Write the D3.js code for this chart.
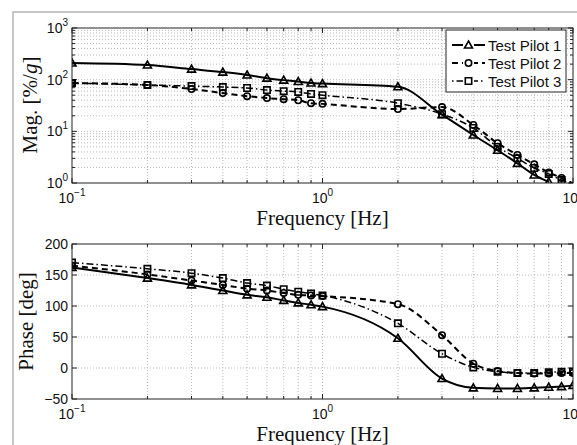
<!DOCTYPE html>
<html><head><meta charset="utf-8">
<script src="https://cdn.jsdelivr.net/npm/d3@7"></script>
<style>body{margin:0;background:#fff}svg{display:block}</style>
</head><body>
<svg id="c" width="577" height="445"></svg>
<script>
// ---------- data ----------
const freqs = [0.1,0.2,0.3,0.4,0.5,0.6,0.7,0.8,0.9,1,2,3,4,5,6,7,8,9,10];
const seriesNames = ["Test Pilot 1","Test Pilot 2","Test Pilot 3"];
const magPilot1 = [210,192,160,140,123,107,98,92,86,84,73,21,8.5,4.3,2.4,1.43,1.05,null,null];
const magPilot2 = [86,79,66,55,48,44,42,40,35,34,27,29.5,13.3,5.9,3.5,2.3,1.6,1.25,0.98];
const magPilot3 = [86,79,75,72,69,63,60,58,53,50,35,21.5,11.6,5.0,3.0,1.95,1.5,1.14,0.98];
const phasePilot1 = [162,145,134,125,118,114,109,105,102,99,48,-17,-32,-33,-33,-32,-31,-30,-28];
const phasePilot2 = [165,151,141,134,128,125,121,118,117,116,103,53,7,-5,-8,-9,-9,-8,-8];
const phasePilot3 = [170,160,153,145,137,133,127,123,120,117,72,23,1,-6,-8,-8,-7,-6,-6];
const xTickExps = [-1,0,1];
const magTickExps = [0,1,2,3];
const phaseTicks = [-50,0,50,100,150,200];
const magLabel = "Mag. ";
const phaseLabel = "Phase [deg]";
const freqLabel = "Frequency [Hz]";

// ---------- setup ----------
const svg = d3.select("#c");
svg.append("rect").attr("width",577).attr("height",445).attr("fill","#fff");
svg.append("path").attr("d","M13,445V12H577").attr("fill","none").attr("stroke","#b4b4b4").attr("stroke-width",1.5);

const L = 72, R = 573;
const x = d3.scaleLog().domain([0.1,10]).range([L,R]);
const yMag = d3.scaleLog().domain([1,1000]).range([183,28]);
const yPh = d3.scaleLinear().domain([-50,200]).range([399,244]);

const minorX = [];
for (let k=-1;k<1;k++) for (let m=1;m<10;m++) minorX.push(m*Math.pow(10,k));
minorX.push(10);
const minorMag = [];
for (let k=0;k<3;k++) for (let m=1;m<10;m++) minorMag.push(m*Math.pow(10,k));
minorMag.push(1000);

const styles = [
  {dash:null, w:2, marker:"tri"},
  {dash:"6,4", w:2, marker:"circ"},
  {dash:"7,3,1.5,3", w:1.5, marker:"sq"}
];
const tickFont = "'Liberation Sans', Arial, sans-serif";
const serif = "'Liberation Serif', 'Times New Roman', serif";

function drawMarker(g, type, cx, cy) {
  const s = g.append("path").attr("fill","none").attr("stroke","#000").attr("stroke-width",1.6);
  if (type==="tri") s.attr("d",`M${cx},${cy-4}L${cx+4},${cy+3}L${cx-4},${cy+3}Z`);
  else if (type==="circ") s.attr("d",d3.arc()({innerRadius:0,outerRadius:3.2,startAngle:0,endAngle:2*Math.PI})).attr("transform",`translate(${cx},${cy})`);
  else s.attr("d",`M${cx-3.2},${cy-3.2}h6.4v6.4h-6.4Z`);
}

function drawPanel(y, yTop, yBot, isLog, seriesVals, clipId) {
  const g = svg.append("g");
  // grid
  const grid = g.append("g").attr("stroke","#a8a8a8").attr("stroke-width",0.8).attr("stroke-dasharray","1,2");
  minorX.forEach(v => { if (v>0.1 && v<10) grid.append("line").attr("x1",x(v)).attr("x2",x(v)).attr("y1",yTop).attr("y2",yBot); });
  const yGridVals = isLog ? minorMag.filter(v=>v>1&&v<1000) : phaseTicks.filter(v=>v>-50&&v<200);
  yGridVals.forEach(v => grid.append("line").attr("x1",L).attr("x2",R).attr("y1",y(v)).attr("y2",y(v)));
  // ticks
  const tk = g.append("g").attr("stroke","#222").attr("stroke-width",1);
  minorX.forEach(v => {
    const major = xTickExps.some(e=>Math.abs(Math.pow(10,e)-v)<1e-9);
    const len = major?5:3;
    tk.append("line").attr("x1",x(v)).attr("x2",x(v)).attr("y1",yBot).attr("y2",yBot-len);
    tk.append("line").attr("x1",x(v)).attr("x2",x(v)).attr("y1",yTop).attr("y2",yTop+len);
  });
  const yTickVals = isLog ? minorMag : phaseTicks;
  yTickVals.forEach(v => {
    const major = isLog ? magTickExps.some(e=>Math.abs(Math.pow(10,e)-v)<1e-9) : true;
    const len = major?5:3;
    tk.append("line").attr("x1",L).attr("x2",L+len).attr("y1",y(v)).attr("y2",y(v));
    tk.append("line").attr("x1",R).attr("x2",R-len).attr("y1",y(v)).attr("y2",y(v));
  });
  // clip
  svg.append("clipPath").attr("id",clipId).append("rect").attr("x",L).attr("y",yTop).attr("width",R-L).attr("height",yBot-yTop);
  const plot = g.append("g").attr("clip-path",`url(#${clipId})`);
  seriesVals.forEach((vals,i) => {
    const st = styles[i];
    const pts = freqs.map((f,j)=>[f,vals[j]]).filter(d=>d[1]!==null);
    const line = d3.line().x(d=>x(d[0])).y(d=>y(d[1])).curve(d3.curveMonotoneX);
    const p = plot.append("path").attr("d",line(pts)).attr("fill","none").attr("stroke","#000").attr("stroke-width",st.w);
    if (st.dash) p.attr("stroke-dasharray",st.dash);
    pts.forEach(d => {
      const dom = y.domain();
      if (d[1] >= dom[0] && d[1] <= dom[1]) drawMarker(plot, st.marker, x(d[0]), y(d[1]));
    });
  });
  // box
  g.append("rect").attr("x",L).attr("y",yTop).attr("width",R-L).attr("height",yBot-yTop).attr("fill","none").attr("stroke","#222").attr("stroke-width",1);
  // x tick labels
  xTickExps.forEach(e => {
    const t = g.append("text").attr("x",x(Math.pow(10,e))).attr("y",yBot+20).attr("text-anchor","middle")
      .attr("font-family",tickFont).attr("font-size",14).attr("fill","#111");
    t.append("tspan").text("10");
    t.append("tspan").attr("dy",-7).attr("font-size",10).text(e<0?"\u2212"+(-e):String(e));
  });
  // y tick labels
  if (isLog) {
    magTickExps.forEach(e => {
      const t = g.append("text").attr("x",68).attr("y",y(Math.pow(10,e))+5).attr("text-anchor","end")
        .attr("font-family",tickFont).attr("font-size",14).attr("fill","#111");
      t.append("tspan").text("10");
      t.append("tspan").attr("dy",-7).attr("font-size",10).text(String(e));
    });
  } else {
    phaseTicks.forEach(v => {
      g.append("text").attr("x",68).attr("y",y(v)+5).attr("text-anchor","end")
        .attr("font-family",tickFont).attr("font-size",14).attr("fill","#111")
        .text(v<0?"\u2212"+(-v):String(v));
    });
  }
  // x label
  g.append("text").attr("x",(L+R)/2).attr("y",yBot+42).attr("text-anchor","middle")
    .attr("font-family",serif).attr("font-size",21).attr("fill","#111").text(freqLabel);
  return g;
}

drawPanel(yMag, 28, 183, true, [magPilot1,magPilot2,magPilot3], "clipMag");
drawPanel(yPh, 244, 399, false, [phasePilot1,phasePilot2,phasePilot3], "clipPh");

// y labels
const ml = svg.append("text").attr("transform",`translate(37,105) rotate(-90)`).attr("text-anchor","middle")
  .attr("font-family",serif).attr("font-size",21).attr("fill","#111");
ml.append("tspan").text(magLabel + "[%/");
ml.append("tspan").attr("font-style","italic").text("g");
ml.append("tspan").text("]");
svg.append("text").attr("transform",`translate(33,321.5) rotate(-90)`).attr("text-anchor","middle")
  .attr("font-family",serif).attr("font-size",21).attr("fill","#111").text(phaseLabel);

// legend
const lg = svg.append("g");
lg.append("rect").attr("x",446).attr("y",30).attr("width",120).attr("height",62).attr("fill","#fff").attr("stroke","#222").attr("stroke-width",1);
seriesNames.forEach((name,i) => {
  const yy = 45 + i*18;
  const st = styles[i];
  const l = lg.append("line").attr("x1",452).attr("x2",485).attr("y1",yy).attr("y2",yy).attr("stroke","#000").attr("stroke-width",st.w);
  if (st.dash) l.attr("stroke-dasharray", i===1 ? "6,4" : "1.5,3,7,3");
  lg.append("rect").attr("x",463).attr("y",yy-5).attr("width",11).attr("height",10).attr("fill","#fff");
  drawMarker(lg, st.marker, 468.5, yy);
  lg.append("text").attr("x",488).attr("y",yy).attr("dominant-baseline","central")
    .attr("font-family",tickFont).attr("font-size",15).attr("fill","#111").text(name);
});
</script>
</body></html>
